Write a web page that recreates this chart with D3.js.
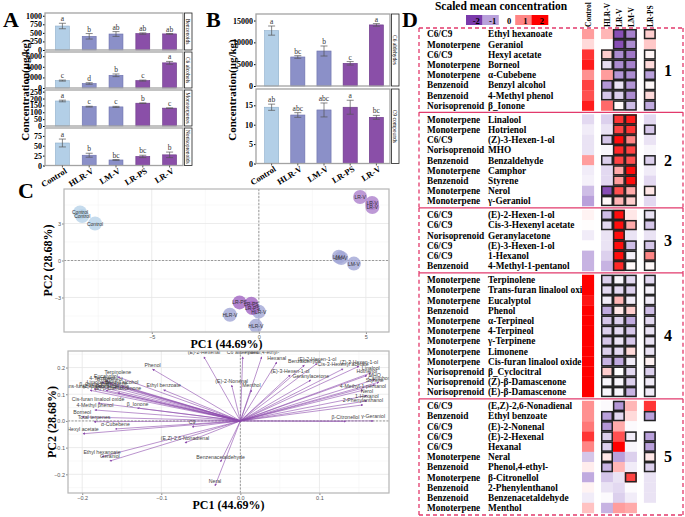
<!DOCTYPE html>
<html>
<head>
<meta charset="utf-8">
<script src="https://cdn.jsdelivr.net/npm/d3@7"></script>
<style>
  body { margin: 0; background: #fff; }
  svg { display: block; }
</style>
</head>
<body>
<svg id="fig" width="685" height="517"></svg>
<script>
const groups = ["Control", "HLR-V", "LM-V", "LR-PS", "LR-V"];

// Panel A: four compound classes
const aClasses = ["Benzenoids", "C6 alcohols", "Monoterpenes", "Norisoprenoids"];
const aMeans = [[700, 400, 467, 480, 470], [1400, 850, 2400, 1400, 4750], [182, 141, 139, 166, 130], [57, 26, 14, 23, 27]];
const aErrors = [[80, 80, 70, 20, 10], [100, 150, 250, 100, 270], [6, 3, 4, 2, 1], [10, 5, 1, 3, 7]];
const aLetters = [["a", "b", "ab", "ab", "ab"], ["c", "d", "b", "c", "a"], ["a", "c", "c", "b", "c"], ["a", "b", "bc", "bc", "b"]];
const aTicks = [[0, 250, 500, 750, 1000], [0, 2000, 4000, 6000], [0, 50, 100, 150, 200, 250], [0, 25, 50, 75]];
const aMax = [1080, 6800, 262, 95];

// Panel B
const bClasses = ["C6 aldehydes", "C9 compounds"];
const bMeans = [[12700, 6650, 8020, 5200, 14000], [14.5, 12.5, 13.8, 14.5, 11.9]];
const bErrors = [[1050, 300, 1150, 400, 300], [0.8, 0.6, 1.8, 1.8, 0.5]];
const bLetters = [["a", "bc", "b", "c", "a"], ["ab", "abc", "abc", "a", "bc"]];
const bTicks = [[0, 5000, 10000, 15000], [0, 5, 10, 15]];
const bMax = [16500, 19.2];

// Panel C: PCA scores
const pcaSample = ["Control", "Control", "Control", "HLR-V", "HLR-V", "HLR-V", "LM-V", "LM-V", "LM-V", "LR-PS", "LR-PS", "LR-PS", "LR-V", "LR-V", "LR-V"];
const pc1 = [-8.35, -8.25, -7.65, -1.35, 0.0, -0.14, 3.74, 3.85, 4.44, -0.9, -0.35, -0.3, 4.73, 5.29, 5.3];
const pc2 = [3.9, 3.6, 3.0, -4.4, -4.15, -5.3, 0.3, 0.2, -0.25, -3.4, -3.5, -3.85, 5.15, 4.66, 4.34];

// Panel C: loadings
const loadNames = ["(E)-2-Hexenal", "C6 aldehydes", "Phenol,4-ethyl-", "Hexanal", "(E)-2-Nonenal", "Menthol",
  "Benzaldehyde", "(E)-3-Hexen-1-ol", "Geranylacetone", "(E)-2-Hexen-1-ol", "(Z)-3-Hexen-1-ol", "Cis-3-Hexenyl acetate",
  "Linalool", "Hotrienol", "MHO", "Camphor", "Styrene", "4-Methyl-1-pentanol", "Nerol", "1-Hexanol", "2-Phenylenthanol",
  "γ-Geraniol", "β-Citronellol", "Phenol", "Ethyl benzoate", "Terpinolene", "Eucalyptol", "4-Terpineol", "α-Terpineol",
  "Limonene", "Benzyl alcohol", "γ-Terpinene", "β_Cyclocitral", "Trans-furan linalool oxide", "(Z)-β-Damascenone",
  "(E)-β-Damascenone", "Cis-furan linalool oxide", "4-Methyl phenol", "β_Ionone", "Borneol", "Total terpenes", "C9",
  "α-Cubebene", "Hexyl acetate", "(E,Z)-2,6-Nonadienal", "Ethyl hexanoate", "Geraniol", "Benzenacetaldehyde", "Neral"];
const loadPC1 = [-0.046, 0.003, 0.027, 0.046, -0.011, 0.014,
  0.081, 0.063, 0.089, 0.097, 0.15, 0.13,
  0.165, 0.16, 0.17, 0.175, 0.17, 0.155, 0.16, 0.16, 0.155,
  0.168, 0.133, -0.111, -0.097, -0.155, -0.17, -0.175, -0.165,
  -0.18, -0.15, -0.16, -0.185, -0.19, -0.17,
  -0.155, -0.18, -0.184, -0.13, -0.2, -0.185, -0.061,
  -0.158, -0.199, -0.07, -0.175, -0.165, -0.025, -0.032];
const loadPC2 = [0.24, 0.24, 0.24, 0.22, 0.134, 0.116,
  0.209, 0.172, 0.153, 0.215, 0.205, 0.195,
  0.18, 0.17, 0.155, 0.145, 0.135, 0.115, 0.095, 0.075, 0.06,
  0.0, -0.002, 0.194, 0.116, 0.165, 0.15, 0.145, 0.14,
  0.13, 0.13, 0.125, 0.12, 0.115, 0.115,
  0.105, 0.067, 0.041, 0.048, 0.015, -0.003, -0.022,
  -0.03, -0.048, -0.082, -0.134, -0.15, -0.153, -0.243];

// Panel D: heatmap
const heatCols = ["Control", "HLR-V", "LR-V", "LM-V", "LR-PS"];
const heatSections = [8, 9, 6, 12, 11];
const heatClass = ["C6/C9", "Monoterpene", "C6/C9", "Monoterpene", "Monoterpene", "Benzenoid", "Benzenoid", "Norisoprenoid",
  "Monoterpene", "Monoterpene", "C6/C9", "Norisoprenoid", "Benzenoid", "Monoterpene", "Benzenoid", "Monoterpene", "Monoterpene",
  "C6/C9", "C6/C9", "Norisoprenoid", "C6/C9", "C6/C9", "Benzenoid",
  "Monoterpene", "Monoterpene", "Monoterpene", "Benzenoid", "Monoterpene", "Monoterpene", "Monoterpene", "Monoterpene", "Monoterpene", "Norisoprenoid", "Norisoprenoid", "Norisoprenoid",
  "C6/C9", "Benzenoid", "C6/C9", "C6/C9", "C6/C9", "Monoterpene", "Benzenoid", "Monoterpene", "Benzenoid", "Benzenoid", "Monoterpene"];
const heatNames = ["Ethyl hexanoate", "Geraniol", "Hexyl acetate", "Borneol", "α-Cubebene", "Benzyl alcohol", "4-Methyl phenol", "β_Ionone",
  "Linalool", "Hotrienol", "(Z)-3-Hexen-1-ol", "MHO", "Benzaldehyde", "Camphor", "Styrene", "Nerol", "γ-Geraniol",
  "(E)-2-Hexen-1-ol", "Cis-3-Hexenyl acetate", "Geranylacetone", "(E)-3-Hexen-1-ol", "1-Hexanol", "4-Methyl-1-pentanol",
  "Terpinolene", "Trans-furan linalool oxide", "Eucalyptol", "Phenol", "α-Terpineol", "4-Terpineol", "γ-Terpinene", "Limonene", "Cis-furan linalool oxide", "β_Cyclocitral", "(Z)-β-Damascenone", "(E)-β-Damascenone",
  "(E,Z)-2,6-Nonadienal", "Ethyl benzoate", "(E)-2-Nonenal", "(E)-2-Hexenal", "Hexanal", "Neral", "Phenol,4-ethyl-", "β-Citronellol", "2-Phenylenthanol", "Benzenacetaldehyde", "Menthol"];
const heatValues = [
  [0.8, 0.6, -1.8, -1.3, 0.4], [0.3, 0.0, -1.8, -1.2, 0.45], [1.6, 0.4, -1.2, -1.4, 0.08], [1.8, -0.35, -1.2, -1.3, 0.3],
  [0.9, 0.8, -1.1, -1.2, -1.0], [1.5, -1.1, -0.3, -1.1, 0.05], [1.4, -0.6, -0.5, -1.2, 0.3], [1.8, 1.2, 0.05, -0.7, -0.9],
  [-0.4, -0.5, 1.6, 1.8, -0.4], [-0.2, -0.3, 1.5, 1.6, -0.6], [-0.3, -0.6, 1.9, 1.0, -0.3], [-0.3, -0.1, 1.7, 1.5, -0.1],
  [0.8, -0.5, 1.5, 1.4, -0.5], [-0.2, -0.4, 0.7, 1.9, -0.2], [-0.15, -0.4, 0.8, 1.9, -0.4], [-0.7, -1.8, 1.4, 0.7, 0.2],
  [-1.0, 0.05, 0.6, 0.4, -0.4],
  [0.1, -0.7, 1.9, 0.2, -0.3], [0.02, -0.4, 1.9, 0.7, -0.6], [-0.2, -0.3, 1.9, -0.3, -0.3], [0.0, -0.3, 1.9, -0.7, -0.6],
  [-0.8, -0.5, 1.9, -0.15, 1.0], [-0.8, -0.8, 1.7, 0.05, 0.05],
  [2.0, -0.5, -0.1, -0.4, -0.4], [2.0, -0.4, -0.4, -0.5, -0.15], [1.85, -0.2, 0.6, -0.2, -0.2], [2.0, -0.9, 0.2, 0.4, -0.7],
  [2.0, -0.6, -0.5, -0.9, -0.4], [2.0, -0.5, -0.4, -0.6, -0.3], [2.0, -0.6, -0.3, -0.6, -0.3], [2.0, -0.5, -0.4, 0.3, -0.3],
  [2.0, -0.8, -0.9, -0.2, 0.1], [2.0, 0.4, 0.0, -0.4, -0.5], [2.0, -0.1, -0.1, -0.5, -0.2], [2.0, -0.1, -0.1, -0.8, -0.2],
  [0.9, -0.05, -1.1, 0.6, 1.6], [0.9, -1.0, -0.4, 0.3, -1.0], [1.1, -1.1, 0.7, -0.05, 0.0], [1.6, -0.5, 1.4, -0.2, -1.0],
  [1.0, -0.5, 2.0, -0.1, -1.0], [-0.6, 0.2, -1.0, -0.5, 0.2], [0.15, -0.8, 0.6, -0.2, -0.5], [-0.9, -0.6, -0.3, 1.5, -0.3],
  [0.1, -0.3, -0.4, -0.05, -0.3], [-0.2, -0.05, -0.5, -0.2, -0.3], [0.5, -0.8, 0.8, 0.7, 0.0]];
const heatSig = ["00111", "00110", "01111", "01111", "00111", "01111", "01111", "00111",
  "00110", "00111", "01110", "00110", "01111", "00110", "00110", "01111", "01110",
  "01101", "01111", "00100", "00111", "00111", "00111",
  "01111", "01111", "01111", "01111", "01111", "01111", "01111", "01111", "01111", "01111", "01111", "01111",
  "00100", "01101", "01000", "01011", "01001", "01001", "01001", "00010", "00000", "00000", "00000"];
const legendSteps = [-2, -1, 0, 1, 2];

const svg = d3.select("#fig");
const serif = "'Liberation Serif', 'Times New Roman', serif";
const sans = "'Liberation Sans', Arial, sans-serif";
const barFill = {"Control": "#b3cfe7", "HLR-V": "#8b90c8", "LM-V": "#8b90c8", "LR-PS": "#8a4fa8", "LR-V": "#8a4fa8"};
const barEdge = {"Control": "#8eaecb", "HLR-V": "#6c71ad", "LM-V": "#6c71ad", "LR-PS": "#6a3887", "LR-V": "#6a3887"};

function panelLetter(t, x, y) {
  svg.append("text").attr("x", x).attr("y", y).attr("font-family", serif)
    .attr("font-weight", "bold").attr("font-size", 22).text(t);
}

function barPanel(x, left, top, bottom, max, ticks, means, errs, letters, strip) {
  const y = d3.scaleLinear().domain([0, max]).range([bottom, top]);
  const right = x.range()[1];
  const cx = d => x(d) + x.bandwidth() / 2;
  const g = svg.append("g");
  g.selectAll("rect.bar").data(groups).join("rect").attr("class", "bar")
    .attr("x", d => x(d)).attr("width", x.bandwidth())
    .attr("y", (d, i) => y(means[i])).attr("height", (d, i) => y(0) - y(means[i]))
    .attr("fill", d => barFill[d]).attr("stroke", d => barEdge[d]).attr("stroke-width", 0.6);
  const eb = g.selectAll("g.err").data(groups).join("g").attr("class", "err")
    .attr("stroke", "#555").attr("stroke-width", 0.7);
  eb.append("line").attr("x1", cx).attr("x2", cx)
    .attr("y1", (d, i) => y(means[i] - errs[i])).attr("y2", (d, i) => y(means[i] + errs[i]));
  [-1, 1].forEach(s => {
    eb.append("line").attr("x1", d => cx(d) - 3.5).attr("x2", d => cx(d) + 3.5)
      .attr("y1", (d, i) => y(means[i] + s * errs[i])).attr("y2", (d, i) => y(means[i] + s * errs[i]));
  });
  g.selectAll("text.sig").data(groups).join("text").attr("class", "sig")
    .attr("x", cx).attr("y", (d, i) => y(means[i] + errs[i]) - 2)
    .attr("text-anchor", "middle").attr("font-family", serif).attr("font-size", 7.5).attr("fill", "#333")
    .text((d, i) => letters[i]);
  const ax = g.append("g").attr("transform", `translate(${left},0)`)
    .call(d3.axisLeft(y).tickValues(ticks).tickSize(2).tickPadding(1).tickFormat(d3.format("d")));
  ax.select(".domain").remove();
  ax.selectAll("text").attr("font-family", serif).attr("font-weight", "bold").attr("font-size", 8).attr("fill", "#000");
  g.append("rect").attr("x", left).attr("y", top).attr("width", right - left).attr("height", bottom - top)
    .attr("fill", "none").attr("stroke", "#a3a3a3").attr("stroke-width", 1.3);
  g.append("rect").attr("x", right + 1.5).attr("y", top).attr("width", 7.5).attr("height", bottom - top)
    .attr("fill", "#fff").attr("stroke", "#222").attr("stroke-width", 0.8);
  g.append("text").attr("transform", `translate(${right + 3.2},${(top + bottom) / 2}) rotate(90)`)
    .attr("text-anchor", "middle").attr("font-family", serif).attr("font-size", 5.5).text(strip);
}

function xLabels(x, bottom) {
  const g = svg.append("g");
  const cx = d => x(d) + x.bandwidth() / 2;
  g.selectAll("line").data(groups).join("line")
    .attr("x1", cx).attr("x2", cx).attr("y1", bottom).attr("y2", bottom + 2).attr("stroke", "#555");
  g.selectAll("text").data(groups).join("text")
    .attr("transform", d => `translate(${cx(d) + 5},${bottom + 7}) rotate(-32)`)
    .attr("text-anchor", "end").attr("font-family", serif).attr("font-weight", "bold").attr("font-size", 8.5)
    .text(d => d);
}

function yTitle(x, y) {
  svg.append("text").attr("transform", `translate(${x},${y}) rotate(-90)`).attr("text-anchor", "middle")
    .attr("font-family", serif).attr("font-weight", "bold").attr("font-size", 11).text("Concentration(μg/kg)");
}

// ---------- A ----------
panelLetter("A", 3, 27);
const xA = d3.scaleBand().domain(groups).range([49, 183]).paddingInner(0.48).paddingOuter(0.24);
const aLayout = [[13, 50], [52, 88], [90, 126], [128, 165.5]];
aClasses.forEach((c, k) => barPanel(xA, 45, aLayout[k][0], aLayout[k][1], aMax[k], aTicks[k], aMeans[k], aErrors[k], aLetters[k], c));
xLabels(xA, 165.5);
yTitle(29, 90);

// ---------- B ----------
panelLetter("B", 206, 27);
const xB = d3.scaleBand().domain(groups).range([258, 390]).paddingInner(0.46).paddingOuter(0.25);
const bLayout = [[14, 86], [89, 163.5]];
bClasses.forEach((c, k) => barPanel(xB, 256, bLayout[k][0], bLayout[k][1], bMax[k], bTicks[k], bMeans[k], bErrors[k], bLetters[k], c));
xLabels(xB, 163.5);
yTitle(236, 90);

// ---------- C ----------
panelLetter("C", 18, 198);

function pcaFrame(x, y, xMajor, xMinor, yMajor, yMinor, fmt, clipId) {
  const [x0, x1] = x.range(), [y1, y0] = y.range();
  const g = svg.append("g");
  g.append("rect").attr("x", x0).attr("y", y0).attr("width", x1 - x0).attr("height", y1 - y0).attr("fill", "#fff");
  g.selectAll("line.mnx").data(xMinor).join("line").attr("x1", x).attr("x2", x).attr("y1", y0).attr("y2", y1).attr("stroke", "#f4f4f4").attr("stroke-width", 0.6);
  g.selectAll("line.mny").data(yMinor).join("line").attr("y1", y).attr("y2", y).attr("x1", x0).attr("x2", x1).attr("stroke", "#f4f4f4").attr("stroke-width", 0.6);
  g.selectAll("line.mjx").data(xMajor).join("line").attr("x1", x).attr("x2", x).attr("y1", y0).attr("y2", y1).attr("stroke", "#e6e6e6").attr("stroke-width", 0.8);
  g.selectAll("line.mjy").data(yMajor).join("line").attr("y1", y).attr("y2", y).attr("x1", x0).attr("x2", x1).attr("stroke", "#e6e6e6").attr("stroke-width", 0.8);
  g.append("line").attr("x1", x(0)).attr("x2", x(0)).attr("y1", y0).attr("y2", y1).attr("stroke", "#777").attr("stroke-width", 0.7).attr("stroke-dasharray", "2,1.5");
  g.append("line").attr("y1", y(0)).attr("y2", y(0)).attr("x1", x0).attr("x2", x1).attr("stroke", "#777").attr("stroke-width", 0.7).attr("stroke-dasharray", "2,1.5");
  const bx = g.append("g").attr("transform", `translate(0,${y1})`).call(d3.axisBottom(x).tickValues(xMajor).tickSize(2).tickPadding(1).tickFormat(fmt));
  const by = g.append("g").attr("transform", `translate(${x0},0)`).call(d3.axisLeft(y).tickValues(yMajor).tickSize(2).tickPadding(1).tickFormat(fmt));
  [bx, by].forEach(a => {
    a.select(".domain").remove();
    a.selectAll("line").attr("stroke", "#888");
    a.selectAll("text").attr("font-family", sans).attr("font-size", 5.5).attr("fill", "#555");
  });
  svg.append("clipPath").attr("id", clipId).append("rect").attr("x", x0).attr("y", y0).attr("width", x1 - x0).attr("height", y1 - y0);
  svg.append("text").attr("x", (x0 + x1) / 2).attr("y", y1 + 16).attr("text-anchor", "middle")
    .attr("font-family", serif).attr("font-weight", "bold").attr("font-size", 12).text("PC1 (44.69%)");
  svg.append("text").attr("transform", `translate(${x0 - 12},${(y0 + y1) / 2}) rotate(-90)`).attr("text-anchor", "middle")
    .attr("font-family", serif).attr("font-weight", "bold").attr("font-size", 12).text("PC2 (28.68%)");
  return g;
}

function pcaBorder(x, y) {
  const [x0, x1] = x.range(), [y1, y0] = y.range();
  svg.append("rect").attr("x", x0).attr("y", y0).attr("width", x1 - x0).attr("height", y1 - y0)
    .attr("fill", "none").attr("stroke", "#b5b5b5").attr("stroke-width", 1.2);
}

const sx = d3.scaleLinear().domain([-9.1, 6.08]).range([64, 389]);
const sy = d3.scaleLinear().domain([-5.8, 5.8]).range([332, 189]);
pcaFrame(sx, sy, [-5, 0, 5], [-7.5, -2.5, 2.5], [-3, 0, 3], [-4.5, -1.5, 1.5, 4.5], d3.format("d"), "clipScore");
const dotFill = {"Control": "#b7d2e8", "HLR-V": "#a1a6d6", "LM-V": "#a1a6d6", "LR-PS": "#a064c2", "LR-V": "#ad7fcc"};
const sc = svg.append("g").attr("clip-path", "url(#clipScore)");
sc.selectAll("circle").data(pcaSample).join("circle")
  .attr("cx", (d, i) => sx(pc1[i])).attr("cy", (d, i) => sy(pc2[i])).attr("r", 7)
  .attr("fill", d => dotFill[d]).attr("fill-opacity", 0.8);
sc.selectAll("text").data(pcaSample).join("text")
  .attr("x", (d, i) => sx(pc1[i])).attr("y", (d, i) => sy(pc2[i]) + 2)
  .attr("text-anchor", "middle").attr("font-family", sans).attr("font-size", 5).attr("fill", "#333")
  .text(d => d);
pcaBorder(sx, sy);

const lx = d3.scaleLinear().domain([-0.218, 0.188]).range([68, 389]);
const ly = d3.scaleLinear().domain([-0.27, 0.262]).range([493, 351]);
pcaFrame(lx, ly, [-0.2, -0.1, 0, 0.1], [-0.15, -0.05, 0.05, 0.15], [-0.2, -0.1, 0, 0.1, 0.2], [-0.25, -0.15, -0.05, 0.05, 0.15, 0.25], d3.format(".1f"), "clipLoad");
svg.append("defs").append("marker").attr("id", "tip").attr("viewBox", "0 0 10 10").attr("refX", 8).attr("refY", 5)
  .attr("markerWidth", 3.5).attr("markerHeight", 3.5).attr("orient", "auto")
  .append("path").attr("d", "M0,0L10,5L0,10z").attr("fill", "#8c4aac");
const lg = svg.append("g").attr("clip-path", "url(#clipLoad)");
lg.selectAll("line").data(loadNames).join("line")
  .attr("x1", lx(0)).attr("y1", ly(0))
  .attr("x2", (d, i) => lx(loadPC1[i])).attr("y2", (d, i) => ly(loadPC2[i]))
  .attr("stroke", "#8c4aac").attr("stroke-width", 0.7).attr("stroke-opacity", 0.85).attr("marker-end", "url(#tip)");
lg.selectAll("text").data(loadNames).join("text")
  .attr("x", (d, i) => lx(loadPC1[i])).attr("y", (d, i) => ly(loadPC2[i]) - 2.5)
  .attr("text-anchor", "middle").attr("font-family", sans).attr("font-size", 5.2).attr("fill", "#444")
  .text(d => d);
pcaBorder(lx, ly);

// ---------- D ----------
panelLetter("D", 402, 27);
svg.append("text").attr("x", 501).attr("y", 10).attr("text-anchor", "middle").attr("font-family", serif)
  .attr("font-weight", "bold").attr("font-size", 11.5).text("Scaled mean concentration");
const heat = d3.scaleLinear().domain([-2, -1, 0, 1, 2]).range(["#7a3aab", "#b9a0db", "#ffffff", "#ff8585", "#ff0000"]).clamp(true);
const lgx = d3.scaleBand().domain(legendSteps).range([466, 548]);
svg.append("g").selectAll("rect").data(legendSteps).join("rect")
  .attr("x", d => lgx(d)).attr("y", 15).attr("width", lgx.bandwidth() + 0.3).attr("height", 10).attr("fill", d => heat(d));
svg.append("g").selectAll("text").data(legendSteps).join("text")
  .attr("x", d => lgx(d) + lgx.bandwidth() / 2 + 2).attr("y", 23.5).attr("text-anchor", "middle")
  .attr("font-family", serif).attr("font-weight", "bold").attr("font-size", 8.5).text(d => d);

// column slots: Control | HLR-V LR-V LM-V | LR-PS
const colSlot = d3.scaleOrdinal().domain(heatCols).range([0, 1.6, 2.6, 3.6, 5.2]);
const colX = d3.scaleLinear().domain([0, 1]).range([582, 593.9]);
const cellW = colX(1) - colX(0);
svg.append("g").selectAll("text").data(heatCols).join("text")
  .attr("transform", d => `translate(${colX(colSlot(d)) + cellW / 2 + 3},27) rotate(-90)`)
  .attr("font-family", serif).attr("font-weight", "bold").attr("font-size", 7.5).text(d => d);

const rowH = 10.2, secGap = 3.7, top0 = 29;
const rowSec = heatSections.flatMap((n, s) => d3.range(n).map(() => s));
const rowY = i => top0 + i * rowH + rowSec[i] * secGap;
const secStart = heatSections.map((n, s) => d3.sum(heatSections.slice(0, s)));

const rl = svg.append("g").attr("font-family", serif).attr("font-weight", "bold").attr("font-size", 9.3);
rl.selectAll("text.cls").data(heatClass).join("text").attr("class", "cls")
  .attr("x", 427).attr("y", (d, i) => rowY(i) + rowH / 2 + 3.3).text(d => d);
rl.selectAll("text.cmp").data(heatNames).join("text").attr("class", "cmp")
  .attr("x", 488).attr("y", (d, i) => rowY(i) + rowH / 2 + 3.3).text(d => d);

const cells = [];
heatValues.forEach((row, i) => row.forEach((v, j) => cells.push({i, j, v, sig: heatSig[i][j] === "1"})));
svg.append("g").selectAll("rect").data(cells).join("rect")
  .attr("x", d => colX(colSlot(heatCols[d.j]))).attr("y", d => rowY(d.i))
  .attr("width", cellW + 0.2).attr("height", rowH + 0.2).attr("fill", d => heat(d.v));
svg.append("g").selectAll("rect").data(cells.filter(d => d.sig)).join("rect")
  .attr("x", d => colX(colSlot(heatCols[d.j])) + 0.7).attr("y", d => rowY(d.i) + 0.7)
  .attr("width", cellW - 1.4).attr("height", rowH - 1.4)
  .attr("fill", "none").attr("stroke", "#222").attr("stroke-width", 1.5);

// section boxes
const boxColor = "#e23a6c";
const boxG = svg.append("g").attr("fill", "none").attr("stroke", boxColor).attr("stroke-width", 1.3);
const sTop = heatSections.map((n, s) => s === 0 ? rowY(0) - 1 : (rowY(secStart[s]) + rowY(secStart[s] - 1) + rowH) / 2);
const sBot = heatSections.map((n, s) => s === heatSections.length - 1 ? rowY(secStart[s] + n - 1) + rowH + 2 : sTop[s + 1]);
heatSections.forEach((n, s) => {
  boxG.append("line").attr("x1", 419).attr("x2", 419).attr("y1", sTop[s]).attr("y2", sBot[s]).attr("stroke-dasharray", "4,3");
  boxG.append("line").attr("x1", 683).attr("x2", 683).attr("y1", sTop[s]).attr("y2", sBot[s]).attr("stroke-dasharray", "4,3");
  boxG.append("line").attr("x1", 419).attr("x2", 683).attr("y1", sTop[s]).attr("y2", sTop[s])
    .attr("stroke-dasharray", s === 0 ? "4,3" : null);
  svg.append("text").attr("x", 668).attr("y", (sTop[s] + sBot[s]) / 2 + 5.5).attr("text-anchor", "middle")
    .attr("font-family", serif).attr("font-weight", "bold").attr("font-size", 16).text(s + 1);
});
boxG.append("line").attr("x1", 419).attr("x2", 683).attr("y1", sBot[4]).attr("y2", sBot[4]).attr("stroke-dasharray", "4,3");
</script>
</body>
</html>
